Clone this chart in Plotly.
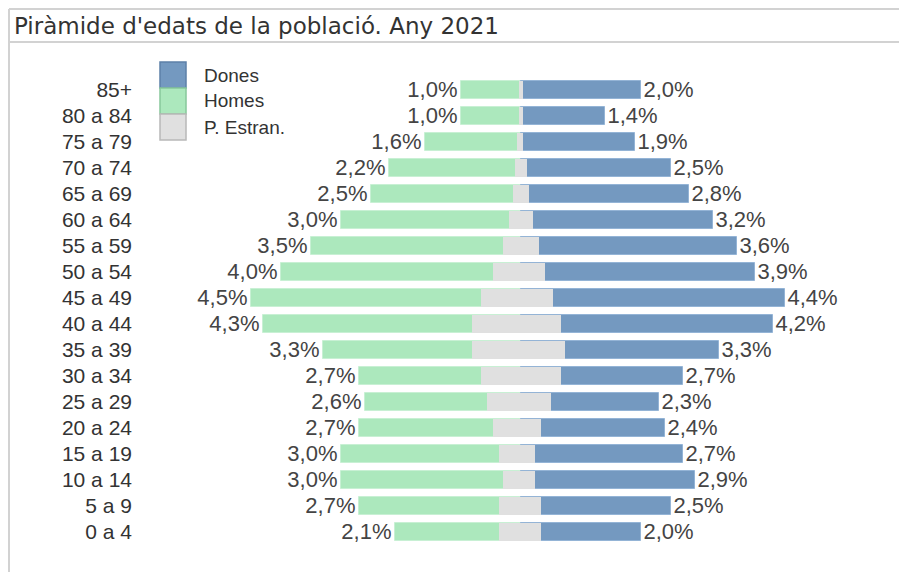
import plotly.graph_objects as go

# ---- data ----
ages = ['85+', '80 a 84', '75 a 79', '70 a 74', '65 a 69', '60 a 64', '55 a 59',
        '50 a 54', '45 a 49', '40 a 44', '35 a 39', '30 a 34', '25 a 29', '20 a 24',
        '15 a 19', '10 a 14', '5 a 9', '0 a 4']
homes = [1.0, 1.0, 1.6, 2.2, 2.5, 3.0, 3.5, 4.0, 4.5, 4.3, 3.3, 2.7, 2.6, 2.7, 3.0, 3.0, 2.7, 2.1]
dones = [2.0, 1.4, 1.9, 2.5, 2.8, 3.2, 3.6, 3.9, 4.4, 4.2, 3.3, 2.7, 2.3, 2.4, 2.7, 2.9, 2.5, 2.0]
estran_homes = [0.03, 0.03, 0.07, 0.10, 0.13, 0.20, 0.30, 0.46, 0.67, 0.81, 0.81, 0.67, 0.57, 0.47, 0.37, 0.30, 0.37, 0.37]
estran_dones = [0.03, 0.03, 0.03, 0.10, 0.13, 0.20, 0.30, 0.40, 0.53, 0.67, 0.73, 0.67, 0.50, 0.33, 0.23, 0.23, 0.33, 0.33]
legend_labels = ['Dones', 'Homes', 'P. Estran.']
title_text = "Piràmide d'edats de la població. Any 2021"

# ---- styles ----
W, H = 899, 575
BLUE, GREEN, GREY = '#7499C0', '#ACE8BD', '#E0E0E0'
FONT = 'Liberation Sans, Arial, sans-serif'


def fmt(v):
    return f"{v:.1f}".replace('.', ',') + '%'


def px(x):
    return x / W


def py(y):
    return 1 - y / H


fig = go.Figure()
fig.add_trace(go.Bar(
    y=ages, x=[-v for v in homes], orientation='h', name='Homes',
    marker=dict(color=GREEN, line=dict(color='#C8F0D4', width=1)),
    width=0.68, text=[fmt(v) for v in homes], textposition='outside',
    textfont=dict(size=22, color='#444', family=FONT), cliponaxis=False,
    constraintext='none', showlegend=False))
fig.add_trace(go.Bar(
    y=ages, x=dones, orientation='h', name='Dones',
    marker=dict(color=BLUE, line=dict(color='#94B4D6', width=1)),
    width=0.68, text=[fmt(v) for v in dones], textposition='outside',
    textfont=dict(size=22, color='#444', family=FONT), cliponaxis=False,
    constraintext='none', showlegend=False))
fig.add_trace(go.Bar(
    y=ages, base=[-v for v in estran_homes],
    x=[a + b for a, b in zip(estran_homes, estran_dones)], orientation='h',
    name='P. Estran.', marker=dict(color=GREY, line=dict(width=0)),
    width=0.68, showlegend=False))

shapes = []
# panel frame
line_col = '#D2D2D2'
shapes.append(dict(type='line', xref='paper', yref='paper', x0=px(9), x1=px(W + 5), y0=py(9), y1=py(9),
                   line=dict(color=line_col, width=2)))
shapes.append(dict(type='line', xref='paper', yref='paper', x0=px(9), x1=px(W + 5), y0=py(42), y1=py(42),
                   line=dict(color=line_col, width=2)))
shapes.append(dict(type='line', xref='paper', yref='paper', x0=px(9), x1=px(9), y0=py(9), y1=py(572),
                   line=dict(color=line_col, width=2)))

# legend swatches
sw_cols = [BLUE, GREEN, GREY]
sw_lines = ['#5C80A8', '#86C89A', '#B8B8B8']
annotations = []
for i, (lab, c, lc) in enumerate(zip(legend_labels, sw_cols, sw_lines)):
    y0 = 62 + i * 26
    shapes.append(dict(type='rect', xref='paper', yref='paper', x0=px(160), x1=px(186),
                       y0=py(y0), y1=py(y0 + 26), fillcolor=c, line=dict(color=lc, width=1.5)))
    annotations.append(dict(xref='paper', yref='paper', x=px(202), y=py(y0 + 13), text=lab,
                            showarrow=False, xanchor='left', yanchor='middle',
                            font=dict(size=19, color='#333', family=FONT)))

annotations.append(dict(xref='paper', yref='paper', x=px(12), y=py(25.5), text=title_text,
                        showarrow=False, xanchor='left', yanchor='middle',
                        font=dict(size=23, color='#333', family='DejaVu Sans, sans-serif')))

center_px = 521
scale = 60.0
dom_left = 133
fig.update_layout(
    width=W, height=H, margin=dict(l=0, r=0, t=0, b=0),
    paper_bgcolor='white', plot_bgcolor='white',
    barmode='overlay', bargap=0,
    xaxis=dict(domain=[dom_left / W, 1], range=[-(center_px - dom_left) / scale, (W - center_px) / scale],
               visible=False, fixedrange=True),
    yaxis=dict(categoryorder='array', categoryarray=ages[::-1],
               range=[-(H - 532) / 26, 17 + 90 / 26],
               showgrid=False, zeroline=False, showline=False, ticks='',
               tickfont=dict(size=21, color='#333', family=FONT)),
    shapes=shapes, annotations=annotations,
    font=dict(family=FONT),
)

fig.write_html("out.html", config={'displayModeBar': False},
               post_script="document.body.style.margin='0px';document.body.style.overflow='hidden';")
